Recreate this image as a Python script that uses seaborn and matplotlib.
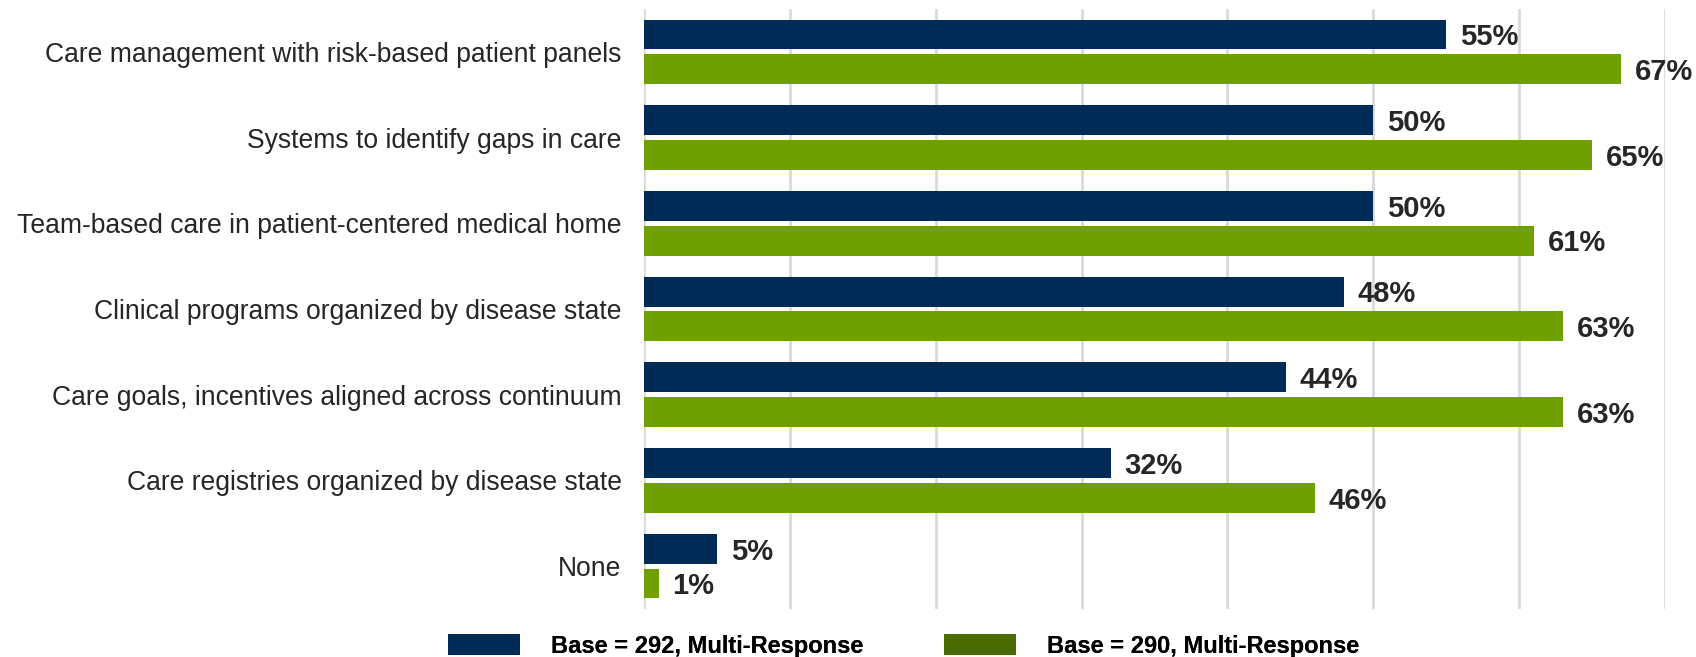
import matplotlib
matplotlib.use("Agg")
import matplotlib.pyplot as plt
from matplotlib.patches import Patch
import seaborn as sns
import pandas as pd

# Survey items and percentages for the two respondent groups
categories = [
    "Care management with risk-based patient panels",
    "Systems to identify gaps in care",
    "Team-based care in patient-centered medical home",
    "Clinical programs organized by disease state",
    "Care goals, incentives aligned across continuum",
    "Care registries organized by disease state",
    "None",
]
series_names = ["Base = 292, Multi-Response", "Base = 290, Multi-Response"]
values_292 = [55, 50, 50, 48, 44, 32, 5]
values_290 = [67, 65, 61, 63, 63, 46, 1]
x_ticks = [0, 10, 20, 30, 40, 50, 60, 70]

NAVY = "#002B56"
GREEN = "#6FA000"
GREEN_KEY = "#4A6B00"
TEXT = "#262626"

df = pd.DataFrame({
    "item": categories * 2,
    "series": [series_names[0]] * len(categories) + [series_names[1]] * len(categories),
    "pct": values_292 + values_290,
})

sns.set_theme(style="white")
plt.rcParams["font.family"] = ["Liberation Sans", "DejaVu Sans"]

fig = plt.figure(figsize=(16.96, 6.57), dpi=100)
ax = fig.add_axes([0.3797, 0.0731, 0.6020, 0.9132])

sns.barplot(
    data=df, y="item", x="pct", hue="series", order=categories,
    hue_order=series_names, palette=[NAVY, GREEN], saturation=1,
    orient="h", width=0.81, gap=0.14, linewidth=0, legend=False, ax=ax,
)

ax.set_xlim(0, 70)
ax.set_xticks(x_ticks)
ax.set_xticklabels([])
ax.set_xlabel("")
ax.set_ylabel("")
ax.grid(axis="x", color="#D9D9D9", linewidth=2)
ax.set_axisbelow(True)
for side in ["top", "right", "bottom", "left"]:
    ax.spines[side].set_visible(False)
ax.tick_params(axis="y", length=0, pad=16, labelsize=19.1, labelcolor=TEXT)
ax.tick_params(axis="x", length=0)

# Bold percentage labels just past each bar end, nudged slightly downward
for container, vals in zip(ax.containers, [values_292, values_290]):
    texts = ax.bar_label(container, labels=[f"{v}%" for v in vals], padding=10,
                         fontsize=21, fontweight="bold", color=TEXT)
    for t in texts:
        t.xyann = (10, -2)

# One key entry per series, each anchored at its own position
key_colors = [NAVY, GREEN_KEY]
key_x = [448 / 1696, 944 / 1696]
for name, color, x0 in zip(series_names, key_colors, key_x):
    leg = fig.legend(
        [Patch(facecolor=color, edgecolor="none")], [name],
        loc="center left", bbox_to_anchor=(x0, 1 - 646 / 657),
        frameon=False, borderpad=0, borderaxespad=0,
        handlelength=3.05, handleheight=0.97, handletextpad=1.3,
        prop={"weight": "bold", "size": 17},
    )
    for t in leg.get_texts():
        t.set_color("black")
    fig.add_artist(leg)

fig.savefig("out.png", dpi=100)
